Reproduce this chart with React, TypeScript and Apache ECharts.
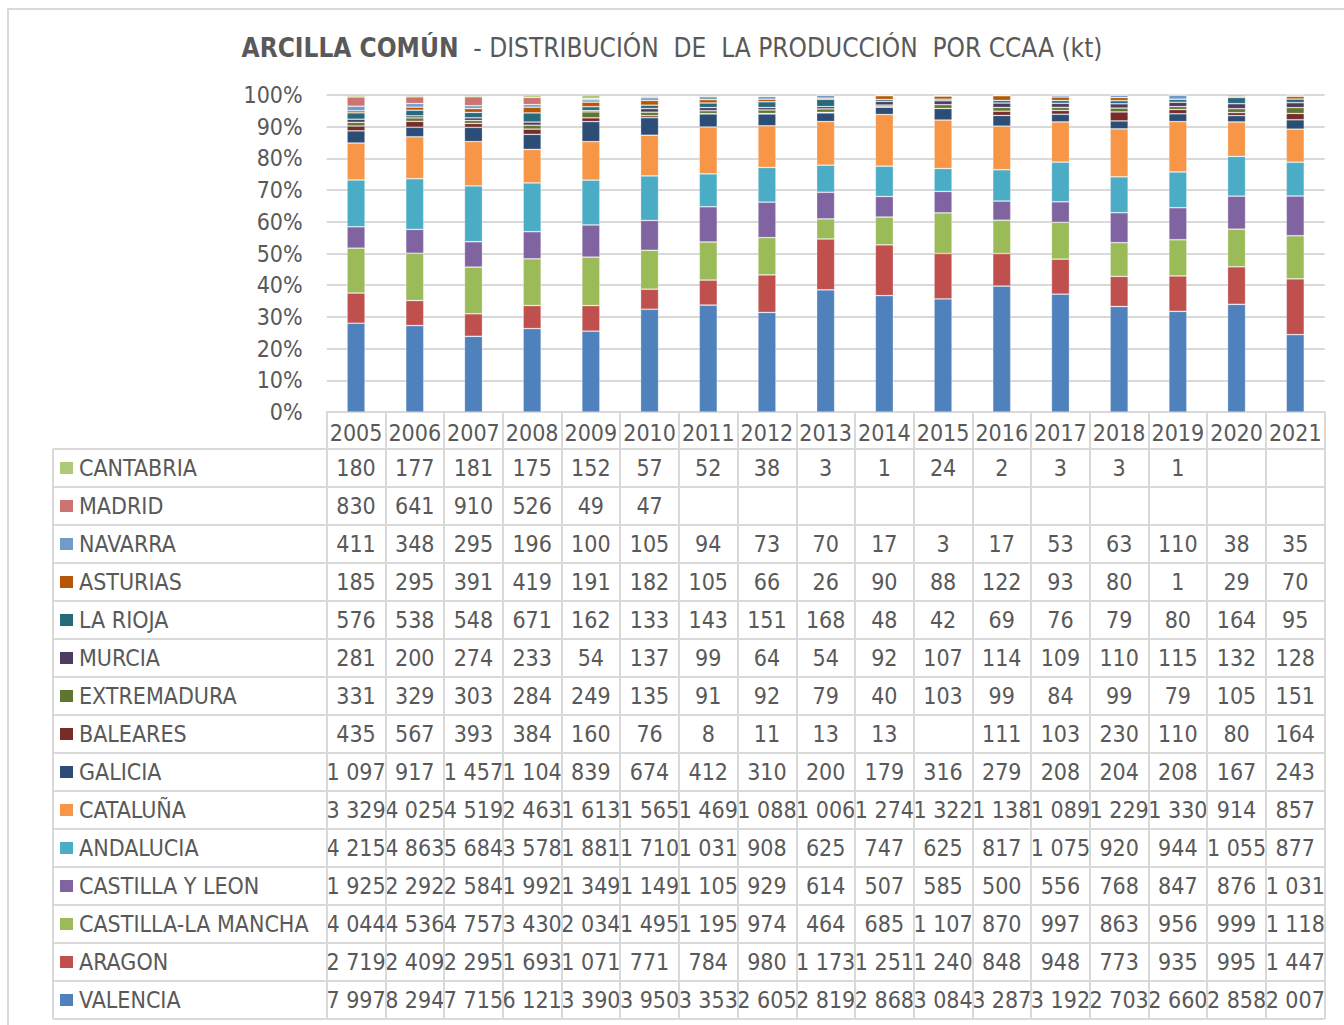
import React, { useEffect, useRef } from "react";
import * as echarts from "echarts";

const years = ["2005","2006","2007","2008","2009","2010","2011","2012","2013","2014","2015","2016","2017","2018","2019","2020","2021"];

// stacked from bottom to top
const valencia = [7997,8294,7715,6121,3390,3950,3353,2605,2819,2868,3084,3287,3192,2703,2660,2858,2007];
const aragon = [2719,2409,2295,1693,1071,771,784,980,1173,1251,1240,848,948,773,935,995,1447];
const castillaLaMancha = [4044,4536,4757,3430,2034,1495,1195,974,464,685,1107,870,997,863,956,999,1118];
const castillaYLeon = [1925,2292,2584,1992,1349,1149,1105,929,614,507,585,500,556,768,847,876,1031];
const andalucia = [4215,4863,5684,3578,1881,1710,1031,908,625,747,625,817,1075,920,944,1055,877];
const cataluna = [3329,4025,4519,2463,1613,1565,1469,1088,1006,1274,1322,1138,1089,1229,1330,914,857];
const galicia = [1097,917,1457,1104,839,674,412,310,200,179,316,279,208,204,208,167,243];
const baleares = [435,567,393,384,160,76,8,11,13,13,null,111,103,230,110,80,164];
const extremadura = [331,329,303,284,249,135,91,92,79,40,103,99,84,99,79,105,151];
const murcia = [281,200,274,233,54,137,99,64,54,92,107,114,109,110,115,132,128];
const laRioja = [576,538,548,671,162,133,143,151,168,48,42,69,76,79,80,164,95];
const asturias = [185,295,391,419,191,182,105,66,26,90,88,122,93,80,1,29,70];
const navarra = [411,348,295,196,100,105,94,73,70,17,3,17,53,63,110,38,35];
const madrid = [830,641,910,526,49,47,null,null,null,null,null,null,null,null,null,null,null];
const cantabria = [180,177,181,175,152,57,52,38,3,1,24,2,3,3,1,null,null];

const regionNames = ["VALENCIA","ARAGON","CASTILLA-LA MANCHA","CASTILLA Y LEON","ANDALUCIA","CATALUÑA","GALICIA","BALEARES","EXTREMADURA","MURCIA","LA RIOJA","ASTURIAS","NAVARRA","MADRID","CANTABRIA"];
const regionValues = [valencia,aragon,castillaLaMancha,castillaYLeon,andalucia,cataluna,galicia,baleares,extremadura,murcia,laRioja,asturias,navarra,madrid,cantabria];
const regionColors = ["#4F81BD","#C0504D","#9BBB59","#8064A2","#4BACC6","#F79646","#2C4D75","#772C2A","#5F7530","#4D3B62","#276A7C","#B65708","#729ACA","#CD7371","#AFC97A"];

const yTicks = [0,10,20,30,40,50,60,70,80,90,100];

const FONT = "'DejaVu Sans Condensed', 'DejaVu Sans', sans-serif";
const TXT = "#595959";
const LINE = "#D9D9D9";

function fmt(v: number | null): string {
  if (v === null || v === undefined) return "";
  if (v >= 1000) {
    const th = Math.floor(v / 1000);
    const rest = String(v % 1000).padStart(3, "0");
    return th + " " + rest;
  }
  return String(v);
}

export default function App() {
  const ref = useRef<HTMLDivElement>(null);
  useEffect(() => {
    document.body.style.margin = "0";
    const chart = echarts.init(ref.current!, undefined, { renderer: "svg" });
    const totals = years.map((_, i) => regionValues.reduce((s, arr) => s + (arr[i] || 0), 0));
    const series = regionNames.map((name, k) => ({
      name,
      type: "bar",
      stack: "total",
      barWidth: 18,
      data: regionValues[k].map((v, i) => ((v || 0) / totals[i]) * 100),
      itemStyle: { color: regionColors[k], borderColor: "rgba(255,255,255,0.35)", borderWidth: 0.75 },
    }));

    const tableTop = 449;
    const rowH = 38;
    const tableLeft = 53;
    const gridLeft = 326.7;
    const gridRightEdge = 1324.6;

    chart.setOption({
      animation: false,
      title: {
        left: "center",
        top: 27,
        text: "{b|ARCILLA COMÚN}{n|  - DISTRIBUCIÓN  DE  LA PRODUCCIÓN  POR CCAA (kt)}",
        textStyle: {
          fontWeight: "normal",
          rich: {
            b: { fontFamily: FONT, fontSize: 26, fontWeight: "bold", color: TXT, lineHeight: 32 },
            n: { fontFamily: FONT, fontSize: 26, fontWeight: "normal", color: TXT, lineHeight: 32 },
          },
        },
      },
      grid: { left: gridLeft, right: 1344 - gridRightEdge, top: 95, bottom: 1025 - 412 },
      xAxis: {
        type: "category",
        data: years,
        axisLine: { show: true, lineStyle: { color: LINE, width: 2 } },
        axisTick: { show: true, interval: 0, length: 607, lineStyle: { color: LINE, width: 2 } },
        axisLabel: { interval: 0, margin: 9, fontFamily: FONT, fontSize: 23, color: TXT },
      },
      yAxis: {
        type: "value",
        min: 0,
        max: 100,
        interval: 10,
        axisLine: { show: false },
        axisTick: { show: false },
        axisLabel: { margin: 24, fontFamily: FONT, fontSize: 23, color: TXT, formatter: (v: number) => (yTicks.includes(v) ? v + "%" : "") },
        splitLine: { lineStyle: { color: LINE, width: 2 } },
      },
      series,
    });

    const graphics: any[] = [];
    graphics.push({
      type: "rect", silent: true, z: -10,
      shape: { x: 8, y: 9, width: 1400, height: 1100 },
      style: { fill: "none", stroke: LINE, lineWidth: 2 },
    });
    for (let r = 0; r <= regionNames.length; r++) {
      const y = tableTop + rowH * r;
      graphics.push({
        type: "line", silent: true,
        shape: { x1: tableLeft, y1: y, x2: gridRightEdge, y2: y },
        style: { stroke: LINE, lineWidth: 2 },
      });
    }
    graphics.push({
      type: "line", silent: true,
      shape: { x1: tableLeft, y1: tableTop, x2: tableLeft, y2: tableTop + rowH * regionNames.length },
      style: { stroke: LINE, lineWidth: 2 },
    });
    const rows = regionNames.map((n, k) => k).reverse();
    rows.forEach((k, r) => {
      const cy = tableTop + rowH * r + rowH / 2;
      graphics.push({
        type: "rect", silent: true,
        shape: { x: 60, y: cy - 6, width: 13, height: 12 },
        style: { fill: regionColors[k] },
      });
      graphics.push({
        type: "text", silent: true,
        x: 79, y: cy,
        style: { text: regionNames[k], fontFamily: FONT, fontSize: 23, fill: TXT, align: "left", verticalAlign: "middle" },
      });
      years.forEach((yr, i) => {
        const cx = chart.convertToPixel({ xAxisIndex: 0 }, yr) as number;
        const t = fmt(regionValues[k][i]);
        if (!t) return;
        graphics.push({
          type: "text", silent: true,
          x: cx, y: cy,
          style: { text: t, fontFamily: FONT, fontSize: 23, fill: TXT, align: "center", verticalAlign: "middle" },
        });
      });
    });
    chart.setOption({ graphic: graphics });
    return () => chart.dispose();
  }, []);
  return <div ref={ref} style={{ width: 1344, height: 1025, position: "absolute", left: 0, top: 0 }} />;
}
